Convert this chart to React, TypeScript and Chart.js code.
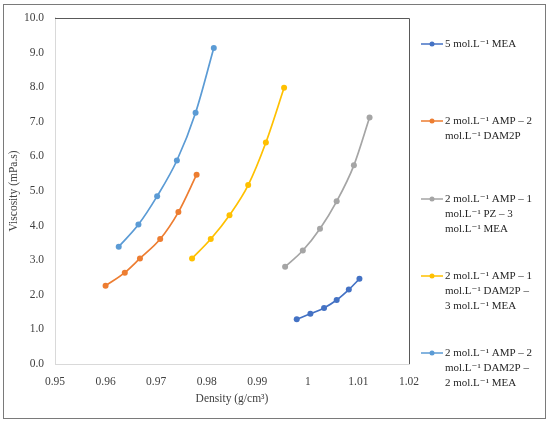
import { useEffect, useRef } from "react";
import { Chart, registerables } from "chart.js";

Chart.register(...registerables);

const seriesNames: string[][] = [
  ["5 mol.L⁻¹ MEA"],
  ["2 mol.L⁻¹ AMP – 2", "mol.L⁻¹ DAM2P"],
  ["2 mol.L⁻¹ AMP – 1", "mol.L⁻¹ PZ – 3", "mol.L⁻¹ MEA"],
  ["2 mol.L⁻¹ AMP – 1", "mol.L⁻¹ DAM2P –", "3 mol.L⁻¹ MEA"],
  ["2 mol.L⁻¹ AMP – 2", "mol.L⁻¹ DAM2P –", "2 mol.L⁻¹ MEA"],
];
const seriesColors = ["#4472C4", "#ED7D31", "#A5A5A5", "#FFC000", "#5B9BD5"];

const meaDensity = [0.9978, 1.0005, 1.0032, 1.0057, 1.0081, 1.0102];
const meaViscosity = [1.29, 1.45, 1.62, 1.85, 2.15, 2.46];

const ampDam2pDensity = [0.96, 0.9638, 0.9668, 0.9708, 0.9744, 0.978];
const ampDam2pViscosity = [2.26, 2.64, 3.05, 3.61, 4.39, 5.47];

const ampPzMeaDensity = [0.9955, 0.999, 1.0024, 1.0057, 1.0091, 1.0122];
const ampPzMeaViscosity = [2.81, 3.28, 3.91, 4.7, 5.74, 7.12];

const ampDam2p1MeaDensity = [0.9771, 0.9808, 0.9845, 0.9882, 0.9917, 0.9953];
const ampDam2p1MeaViscosity = [3.05, 3.61, 4.3, 5.17, 6.4, 7.98];

const ampDam2p2MeaDensity = [0.9626, 0.9665, 0.9702, 0.9741, 0.9778, 0.9814];
const ampDam2p2MeaViscosity = [3.39, 4.03, 4.85, 5.88, 7.26, 9.13];

const xTickLabels = ["0.95", "0.96", "0.97", "0.98", "0.99", "1", "1.01", "1.02"];
const yTickLabels = ["0.0", "1.0", "2.0", "3.0", "4.0", "5.0", "6.0", "7.0", "8.0", "9.0", "10.0"];

const FONT = '"Liberation Serif", "DejaVu Serif", serif';

const seriesX = [meaDensity, ampDam2pDensity, ampPzMeaDensity, ampDam2p1MeaDensity, ampDam2p2MeaDensity];
const seriesY = [meaViscosity, ampDam2pViscosity, ampPzMeaViscosity, ampDam2p1MeaViscosity, ampDam2p2MeaViscosity];

const frameLegendPlugin = {
  id: "frameLegend",
  afterDraw(chart: any) {
    const ctx = chart.ctx as CanvasRenderingContext2D;
    const area = chart.chartArea;
    ctx.save();
    // outer border
    ctx.strokeStyle = "#7a7a7a";
    ctx.lineWidth = 1;
    ctx.strokeRect(3.5, 4.5, 542, 414);
    // plot area top/right border
    ctx.strokeStyle = "#595959";
    ctx.beginPath();
    ctx.moveTo(area.left, Math.round(area.top) + 0.5);
    ctx.lineTo(Math.round(area.right) + 0.5, Math.round(area.top) + 0.5);
    ctx.lineTo(Math.round(area.right) + 0.5, area.bottom);
    ctx.stroke();
    // legend
    const firstLineY = [44, 121, 199, 276, 353];
    const lineGap = 15.3;
    ctx.font = `11px ${FONT}`;
    ctx.textBaseline = "middle";
    ctx.textAlign = "left";
    chart.data.datasets.forEach((ds: any, i: number) => {
      const y = firstLineY[i];
      ctx.strokeStyle = ds.borderColor;
      ctx.lineWidth = 1.5;
      ctx.beginPath();
      ctx.moveTo(421, y);
      ctx.lineTo(443, y);
      ctx.stroke();
      ctx.fillStyle = ds.borderColor;
      ctx.beginPath();
      ctx.arc(432, y, 2.5, 0, Math.PI * 2);
      ctx.fill();
      ctx.fillStyle = "#262626";
      seriesNames[i].forEach((line, j) => {
        ctx.fillText(line, 445, y + j * lineGap);
      });
    });
    ctx.restore();
  },
};

export default function App() {
  const ref = useRef<HTMLCanvasElement | null>(null);

  useEffect(() => {
    document.body.style.margin = "0";
    if (!ref.current) return;
    const chart = new Chart(ref.current, {
      type: "scatter",
      data: {
        datasets: seriesNames.map((name, i) => ({
          label: name.join(" "),
          data: seriesX[i].map((x, k) => ({ x, y: seriesY[i][k] })),
          showLine: true,
          cubicInterpolationMode: "monotone" as const,
          borderColor: seriesColors[i],
          backgroundColor: seriesColors[i],
          borderWidth: 1.7,
          pointRadius: 3,
          pointHoverRadius: 3,
          pointBorderWidth: 0,
        })),
      },
      options: {
        animation: false,
        responsive: false,
        layout: { padding: { left: 0, right: 141, top: 17, bottom: 0 } },
        plugins: {
          legend: { display: false },
          tooltip: { enabled: false },
        },
        scales: {
          x: {
            type: "linear",
            min: 0.95,
            max: 1.02,
            afterFit: (s: any) => {
              s.height = 59;
            },
            ticks: {
              stepSize: 0.01,
              padding: 11,
              color: "#404040",
              font: { family: FONT, size: 11.5 },
              callback: (_v: any, idx: number) => xTickLabels[idx],
            },
            grid: { display: false, drawTicks: false },
            border: { display: true, color: "#d9d9d9", width: 1 },
            title: {
              display: true,
              text: "Density (g/cm³)",
              color: "#404040",
              font: { family: FONT, size: 11.5 },
              padding: { top: 0, bottom: 17 },
            },
          },
          y: {
            type: "linear",
            min: 0,
            max: 10,
            afterFit: (s: any) => {
              s.width = 55;
            },
            ticks: {
              stepSize: 1,
              padding: 11,
              color: "#404040",
              font: { family: FONT, size: 11.5 },
              callback: (_v: any, idx: number) => yTickLabels[idx],
            },
            grid: { display: false, drawTicks: false },
            border: { display: true, color: "#d9d9d9", width: 1 },
            title: {
              display: true,
              text: "Viscosity (mPa.s)",
              color: "#404040",
              font: { family: FONT, size: 11.5 },
              padding: { top: 7, bottom: 0 },
            },
          },
        },
      },
      plugins: [frameLegendPlugin],
    });
    return () => chart.destroy();
  }, []);

  return (
    <div style={{ width: 550, height: 423, background: "#fff" }}>
      <canvas ref={ref} width={550} height={423} />
    </div>
  );
}
